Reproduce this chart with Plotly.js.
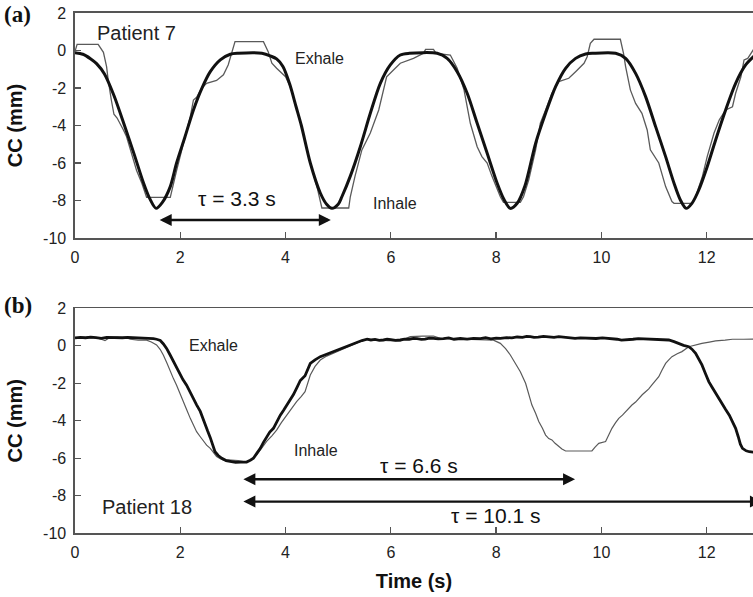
<!DOCTYPE html>
<html>
<head>
<meta charset="utf-8">
<script src="https://cdn.plot.ly/plotly-3.0.1.min.js"></script>
<style>
  html, body { margin: 0; padding: 0; background: #fff; }
  #chart { width: 753px; height: 597px; }
</style>
</head>
<body>
<div id="chart"></div>
<script>
// ---- Panel (a): Patient 7 ----
// Smooth (bold) trace
const p7BoldT = [0.00, 0.15, 0.30, 0.41, 0.56, 0.74, 0.94, 1.12, 1.30, 1.42, 1.54, 1.66, 1.81, 1.93, 2.09, 2.25, 2.41, 2.57, 2.76, 2.95, 3.10, 3.55, 3.72, 3.83, 3.95, 4.08, 4.20, 4.30, 4.47, 4.66, 4.78, 4.88, 5.00, 5.07, 5.23, 5.42, 5.61, 5.80, 5.99, 6.18, 6.35, 6.88, 7.07, 7.26, 7.45, 7.64, 7.83, 8.02, 8.15, 8.27, 8.40, 8.55, 8.75, 8.94, 9.13, 9.32, 9.51, 9.70, 9.85, 10.27, 10.46, 10.65, 10.84, 11.03, 11.22, 11.38, 11.50, 11.61, 11.72, 11.85, 12.01, 12.17, 12.36, 12.55, 12.74, 12.90];
const p7BoldCC = [-0.12, -0.20, -0.45, -0.70, -1.25, -2.40, -4.00, -5.50, -7.05, -7.90, -8.42, -8.10, -7.26, -6.00, -4.60, -3.17, -2.02, -1.13, -0.50, -0.20, -0.15, -0.15, -0.30, -0.45, -0.85, -1.80, -3.00, -4.00, -6.00, -7.60, -8.20, -8.42, -8.20, -7.80, -6.70, -5.13, -3.35, -1.75, -0.77, -0.24, -0.15, -0.15, -0.42, -1.13, -2.28, -3.88, -5.48, -7.08, -7.95, -8.42, -8.15, -7.20, -4.95, -3.35, -1.93, -0.95, -0.42, -0.19, -0.15, -0.15, -0.42, -1.22, -2.46, -4.06, -5.66, -7.08, -7.97, -8.42, -8.15, -7.44, -6.20, -4.77, -3.17, -1.75, -0.77, -0.30];

// Stepped (thin) trace
const p7ThinT = [0.00, 0.04, 0.44, 0.50, 0.54, 0.60, 0.63, 0.69, 0.74, 0.80, 0.86, 0.92, 0.98, 1.08, 1.17, 1.27, 1.36, 1.81, 1.84, 1.93, 2.06, 2.19, 2.25, 2.31, 2.41, 2.50, 2.69, 2.82, 2.91, 2.98, 3.04, 3.58, 3.67, 3.74, 3.83, 4.00, 4.10, 4.20, 4.30, 4.45, 4.60, 4.69, 5.20, 5.23, 5.32, 5.45, 5.51, 5.61, 5.77, 5.86, 5.92, 6.05, 6.18, 6.43, 6.62, 6.66, 6.81, 6.86, 7.13, 7.26, 7.39, 7.51, 7.64, 7.73, 7.83, 7.92, 8.08, 8.14, 8.46, 8.52, 8.62, 8.75, 8.84, 8.94, 9.06, 9.19, 9.38, 9.51, 9.67, 9.73, 9.79, 9.86, 10.36, 10.42, 10.46, 10.55, 10.65, 10.77, 10.87, 10.93, 11.09, 11.22, 11.34, 11.38, 11.72, 11.79, 11.92, 12.01, 12.14, 12.24, 12.36, 12.49, 12.55, 12.65, 12.71, 12.78, 12.84, 12.90];
const p7ThinCC = [-0.05, 0.33, 0.33, 0.10, -0.10, -0.86, -1.57, -2.64, -3.40, -3.60, -3.90, -4.24, -4.60, -5.48, -6.40, -7.08, -7.83, -7.83, -7.44, -6.40, -4.95, -3.53, -2.64, -2.50, -2.00, -1.75, -1.60, -1.30, -0.77, -0.06, 0.47, 0.47, -0.06, -0.68, -0.95, -1.40, -2.00, -3.00, -4.00, -5.80, -7.30, -8.40, -8.40, -7.80, -6.70, -5.30, -4.95, -4.40, -3.17, -2.10, -1.40, -1.04, -0.68, -0.42, -0.15, 0.06, 0.06, -0.15, -0.24, -0.95, -2.10, -3.88, -5.13, -5.66, -6.00, -6.70, -7.80, -8.10, -8.10, -7.80, -6.90, -5.30, -3.88, -3.17, -2.28, -1.66, -1.48, -1.13, -0.68, -0.33, 0.38, 0.60, 0.60, -0.15, -0.86, -2.10, -2.82, -3.35, -4.24, -5.30, -6.00, -7.26, -8.06, -8.15, -8.15, -7.80, -6.70, -5.66, -4.40, -3.70, -3.17, -3.00, -2.28, -1.40, -0.50, -0.42, -0.15, 0.10];

// ---- Panel (b): Patient 18 ----
// Bold trace (noisy recording)
const p18BoldT = [0.00, 0.10, 0.20, 0.30, 0.40, 0.50, 0.60, 0.70, 0.80, 0.90, 1.00, 1.10, 1.20, 1.30, 1.40, 1.49, 1.55, 1.62, 1.68, 1.74, 1.80, 1.87, 1.93, 1.99, 2.05, 2.12, 2.18, 2.25, 2.31, 2.38, 2.43, 2.47, 2.52, 2.57, 2.62, 2.66, 2.72, 2.79, 2.87, 2.95, 3.05, 3.15, 3.26, 3.33, 3.39, 3.45, 3.52, 3.58, 3.64, 3.70, 3.77, 3.83, 3.90, 3.96, 4.02, 4.08, 4.15, 4.22, 4.28, 4.37, 4.47, 4.56, 4.66, 4.78, 4.91, 5.05, 5.15, 5.23, 5.35, 5.45, 5.55, 5.62, 5.70, 5.78, 5.86, 5.93, 6.00, 6.09, 6.18, 6.26, 6.35, 6.43, 6.50, 6.58, 6.65, 6.73, 6.81, 6.90, 7.00, 7.10, 7.20, 7.32, 7.45, 7.57, 7.70, 7.80, 7.90, 8.00, 8.08, 8.20, 8.30, 8.40, 8.50, 8.58, 8.65, 8.72, 8.80, 8.90, 9.00, 9.10, 9.19, 9.27, 9.35, 9.43, 9.50, 9.60, 9.70, 9.80, 9.90, 10.02, 10.14, 10.22, 10.30, 10.38, 10.46, 10.53, 10.60, 10.70, 10.80, 10.90, 11.00, 11.09, 11.20, 11.28, 11.38, 11.47, 11.56, 11.66, 11.72, 11.79, 11.85, 11.91, 11.98, 12.04, 12.10, 12.17, 12.23, 12.30, 12.36, 12.43, 12.49, 12.55, 12.60, 12.64, 12.68, 12.75, 12.81, 12.90];
const p18BoldCC = [0.42, 0.45, 0.43, 0.46, 0.44, 0.40, 0.45, 0.44, 0.46, 0.43, 0.45, 0.44, 0.42, 0.43, 0.40, 0.38, 0.35, 0.28, 0.10, -0.14, -0.45, -0.85, -1.15, -1.47, -1.80, -2.10, -2.45, -2.80, -3.15, -3.50, -3.90, -4.20, -4.55, -4.90, -5.30, -5.65, -5.85, -6.00, -6.12, -6.18, -6.22, -6.20, -6.20, -6.10, -6.00, -5.75, -5.47, -5.15, -4.90, -4.60, -4.40, -4.05, -3.70, -3.45, -3.20, -2.90, -2.60, -2.20, -1.85, -1.60, -0.94, -0.75, -0.58, -0.45, -0.31, -0.15, -0.02, 0.04, 0.20, 0.28, 0.35, 0.31, 0.34, 0.29, 0.31, 0.35, 0.33, 0.29, 0.31, 0.36, 0.35, 0.40, 0.38, 0.34, 0.36, 0.41, 0.40, 0.37, 0.38, 0.42, 0.35, 0.39, 0.36, 0.40, 0.38, 0.43, 0.37, 0.41, 0.40, 0.44, 0.42, 0.47, 0.45, 0.50, 0.49, 0.45, 0.46, 0.50, 0.48, 0.45, 0.49, 0.46, 0.44, 0.39, 0.40, 0.42, 0.41, 0.37, 0.39, 0.42, 0.40, 0.36, 0.35, 0.30, 0.31, 0.35, 0.35, 0.38, 0.37, 0.34, 0.36, 0.36, 0.34, 0.31, 0.22, 0.10, 0.02, -0.05, -0.18, -0.40, -0.70, -1.02, -1.50, -1.91, -2.20, -2.53, -2.85, -3.16, -3.40, -3.70, -4.05, -4.40, -4.85, -5.25, -5.47, -5.60, -5.65, -5.68];

// Thin trace
const p18ThinT = [0.00, 0.20, 0.40, 0.50, 0.57, 0.64, 0.80, 1.00, 1.05, 1.20, 1.36, 1.45, 1.55, 1.62, 1.68, 1.75, 1.81, 1.87, 1.93, 2.00, 2.06, 2.12, 2.19, 2.25, 2.31, 2.38, 2.44, 2.50, 2.57, 2.63, 2.69, 2.76, 2.82, 2.90, 3.01, 3.10, 3.20, 3.26, 3.35, 3.45, 3.55, 3.64, 3.74, 3.83, 3.92, 4.02, 4.12, 4.21, 4.30, 4.37, 4.47, 4.56, 4.66, 4.78, 4.91, 5.07, 5.23, 5.40, 5.55, 5.75, 5.95, 6.18, 6.30, 6.37, 6.60, 6.81, 6.94, 7.20, 7.45, 7.70, 7.95, 8.08, 8.18, 8.27, 8.36, 8.46, 8.56, 8.62, 8.68, 8.75, 8.81, 8.88, 8.94, 9.00, 9.06, 9.12, 9.19, 9.25, 9.32, 9.82, 9.88, 9.95, 10.08, 10.14, 10.20, 10.27, 10.33, 10.40, 10.46, 10.52, 10.58, 10.65, 10.71, 10.78, 10.84, 10.90, 10.96, 11.02, 11.09, 11.15, 11.22, 11.28, 11.34, 11.44, 11.53, 11.66, 11.72, 11.80, 11.91, 12.05, 12.17, 12.35, 12.49, 12.70, 12.90];
const p18ThinCC = [0.42, 0.44, 0.43, 0.35, 0.28, 0.40, 0.45, 0.40, 0.35, 0.30, 0.30, 0.20, 0.05, -0.20, -0.50, -0.95, -1.38, -1.75, -2.10, -2.55, -2.98, -3.40, -3.87, -4.25, -4.58, -4.85, -5.10, -5.30, -5.47, -5.70, -5.90, -6.02, -6.10, -6.08, -6.10, -6.12, -6.18, -6.18, -6.05, -5.82, -5.45, -5.10, -4.80, -4.50, -4.10, -3.70, -3.35, -2.98, -2.70, -2.45, -1.56, -1.10, -0.76, -0.55, -0.40, -0.20, 0.00, 0.20, 0.35, 0.30, 0.28, 0.26, 0.40, 0.49, 0.52, 0.52, 0.40, 0.38, 0.36, 0.33, 0.30, 0.13, -0.15, -0.49, -0.90, -1.38, -2.00, -2.60, -3.16, -3.60, -4.04, -4.40, -4.76, -4.95, -5.02, -5.20, -5.38, -5.50, -5.61, -5.61, -5.40, -5.20, -5.11, -4.75, -4.40, -4.10, -3.87, -3.70, -3.50, -3.35, -3.16, -3.00, -2.80, -2.60, -2.45, -2.30, -2.09, -1.90, -1.65, -1.30, -0.94, -0.75, -0.58, -0.42, -0.31, -0.05, 0.00, 0.05, 0.13, 0.20, 0.26, 0.30, 0.35, 0.35, 0.36];

// Breathing-period arrows (start, end, height) and their labels
const tauLabels = ['τ = 3.3 s', 'τ = 6.6 s', 'τ = 10.1 s'];
const tauStart = [1.58, 3.17, 3.17];
const tauEnd = [4.86, 9.50, 13.05];
const tauArrowY = [-9.04, -7.12, -8.31];
const tauLabelX = [3.08, 6.53, 7.98];
const tauLabelY = [-7.90, -6.38, -9.06];
const tauPanel = [1, 2, 2];

const xTicks = [0, 2, 4, 6, 8, 10, 12];
const yTicks = [-10, -8, -6, -4, -2, 0, 2];

const thinColor = '#5a5a5a';
const boldColor = '#111111';
const axisColor = '#555555';
const font = 'Arial, "Liberation Sans", sans-serif';

const traces = [
  { x: p7ThinT, y: p7ThinCC, xaxis: 'x', yaxis: 'y', mode: 'lines',
    line: { color: thinColor, width: 1.3 }, hoverinfo: 'skip' },
  { x: p7BoldT, y: p7BoldCC, xaxis: 'x', yaxis: 'y', mode: 'lines',
    line: { color: boldColor, width: 3, shape: 'spline', smoothing: 0.8 }, hoverinfo: 'skip' },
  { x: p18ThinT, y: p18ThinCC, xaxis: 'x2', yaxis: 'y2', mode: 'lines',
    line: { color: thinColor, width: 1.2 }, hoverinfo: 'skip' },
  { x: p18BoldT, y: p18BoldCC, xaxis: 'x2', yaxis: 'y2', mode: 'lines',
    line: { color: boldColor, width: 2.8 }, hoverinfo: 'skip' }
];

function xAxis(anchor) {
  return {
    domain: [0, 1], anchor: anchor, range: [0, 12.88], autorange: false,
    tickvals: xTicks, ticktext: xTicks.map(String),
    ticks: 'inside', ticklen: 6, tickwidth: 1.3, tickcolor: axisColor,
    showline: true, linecolor: axisColor, linewidth: 1.6, mirror: true,
    showgrid: false, zeroline: false, automargin: false,
    tickfont: { family: font, size: 16, color: '#222' }, ticklabelstandoff: 4
  };
}
function yAxis(anchor, dom) {
  return {
    domain: dom, anchor: anchor, range: [-10, 2], autorange: false,
    tickvals: yTicks, ticktext: yTicks.map(String),
    ticks: 'inside', ticklen: 6, tickwidth: 1.3, tickcolor: axisColor,
    showline: true, linecolor: axisColor, linewidth: 1.6, mirror: false,
    showgrid: false, zeroline: false, automargin: false,
    tickfont: { family: font, size: 16, color: '#222' }, ticklabelstandoff: 4,
    title: { text: '<b>CC (mm)</b>', font: { family: font, size: 20, color: '#111' }, standoff: 15 }
  };
}

const annotations = [];
// Text labels inside the panels
const textLabels = [
  { t: 'Patient 7', x: 0.38, y: 0.93, p: 1, s: 20 },
  { t: 'Exhale', x: 4.14, y: -0.45, p: 1, s: 16 },
  { t: 'Inhale', x: 5.62, y: -8.15, p: 1, s: 16 },
  { t: 'Exhale', x: 2.12, y: 0.0, p: 2, s: 16 },
  { t: 'Inhale', x: 4.12, y: -5.56, p: 2, s: 16 },
  { t: 'Patient 18', x: 0.48, y: -8.58, p: 2, s: 20 }
];
textLabels.forEach(l => annotations.push({
  text: l.t, x: l.x, y: l.y, xref: l.p === 1 ? 'x' : 'x2', yref: l.p === 1 ? 'y' : 'y2',
  xanchor: 'left', yanchor: 'middle', showarrow: false,
  font: { family: font, size: l.s, color: '#222' }
}));
// Double-headed period arrows and their captions
tauLabels.forEach((lab, i) => {
  const xr = tauPanel[i] === 1 ? 'x' : 'x2';
  const yr = tauPanel[i] === 1 ? 'y' : 'y2';
  annotations.push({
    text: '', x: tauEnd[i], y: tauArrowY[i], ax: tauStart[i], ay: tauArrowY[i],
    xref: xr, yref: yr, axref: xr, ayref: yr, showarrow: true,
    arrowhead: 2, startarrowhead: 2, arrowside: 'end+start',
    arrowwidth: 2.4, arrowsize: 1, startarrowsize: 1, arrowcolor: '#111',
    standoff: 0, startstandoff: 0
  });
  annotations.push({
    text: lab, x: tauLabelX[i], y: tauLabelY[i], xref: xr, yref: yr,
    xanchor: 'center', yanchor: 'middle', showarrow: false,
    font: { family: font, size: 21, color: '#111' }
  });
});
// Panel letters
annotations.push({ text: '<b>(a)</b>', xref: 'paper', yref: 'paper', x: -0.108, y: 1 - 15 / 597,
  xanchor: 'left', yanchor: 'middle', showarrow: false,
  font: { family: '"Liberation Serif", "Times New Roman", serif', size: 23, color: '#111' } });
annotations.push({ text: '<b>(b)</b>', xref: 'paper', yref: 'paper', x: -0.108, y: 1 - 305 / 597,
  xanchor: 'left', yanchor: 'middle', showarrow: false,
  font: { family: '"Liberation Serif", "Times New Roman", serif', size: 23, color: '#111' } });

const layout = {
  width: 753, height: 597,
  margin: { l: 75, r: 0, t: 0, b: 0 },
  paper_bgcolor: '#fff', plot_bgcolor: '#fff',
  showlegend: false,
  xaxis: xAxis('y'),
  yaxis: yAxis('x', [1 - 238 / 597, 1 - 13 / 597]),
  xaxis2: Object.assign(xAxis('y2'), {
    title: { text: '<b>Time (s)</b>', font: { family: font, size: 20, color: '#111' }, standoff: 14 }
  }),
  yaxis2: yAxis('x2', [1 - 533.3 / 597, 1 - 308.3 / 597]),
  annotations: annotations
};

Plotly.newPlot('chart', traces, layout, { staticPlot: true, displayModeBar: false });
</script>
</body>
</html>
